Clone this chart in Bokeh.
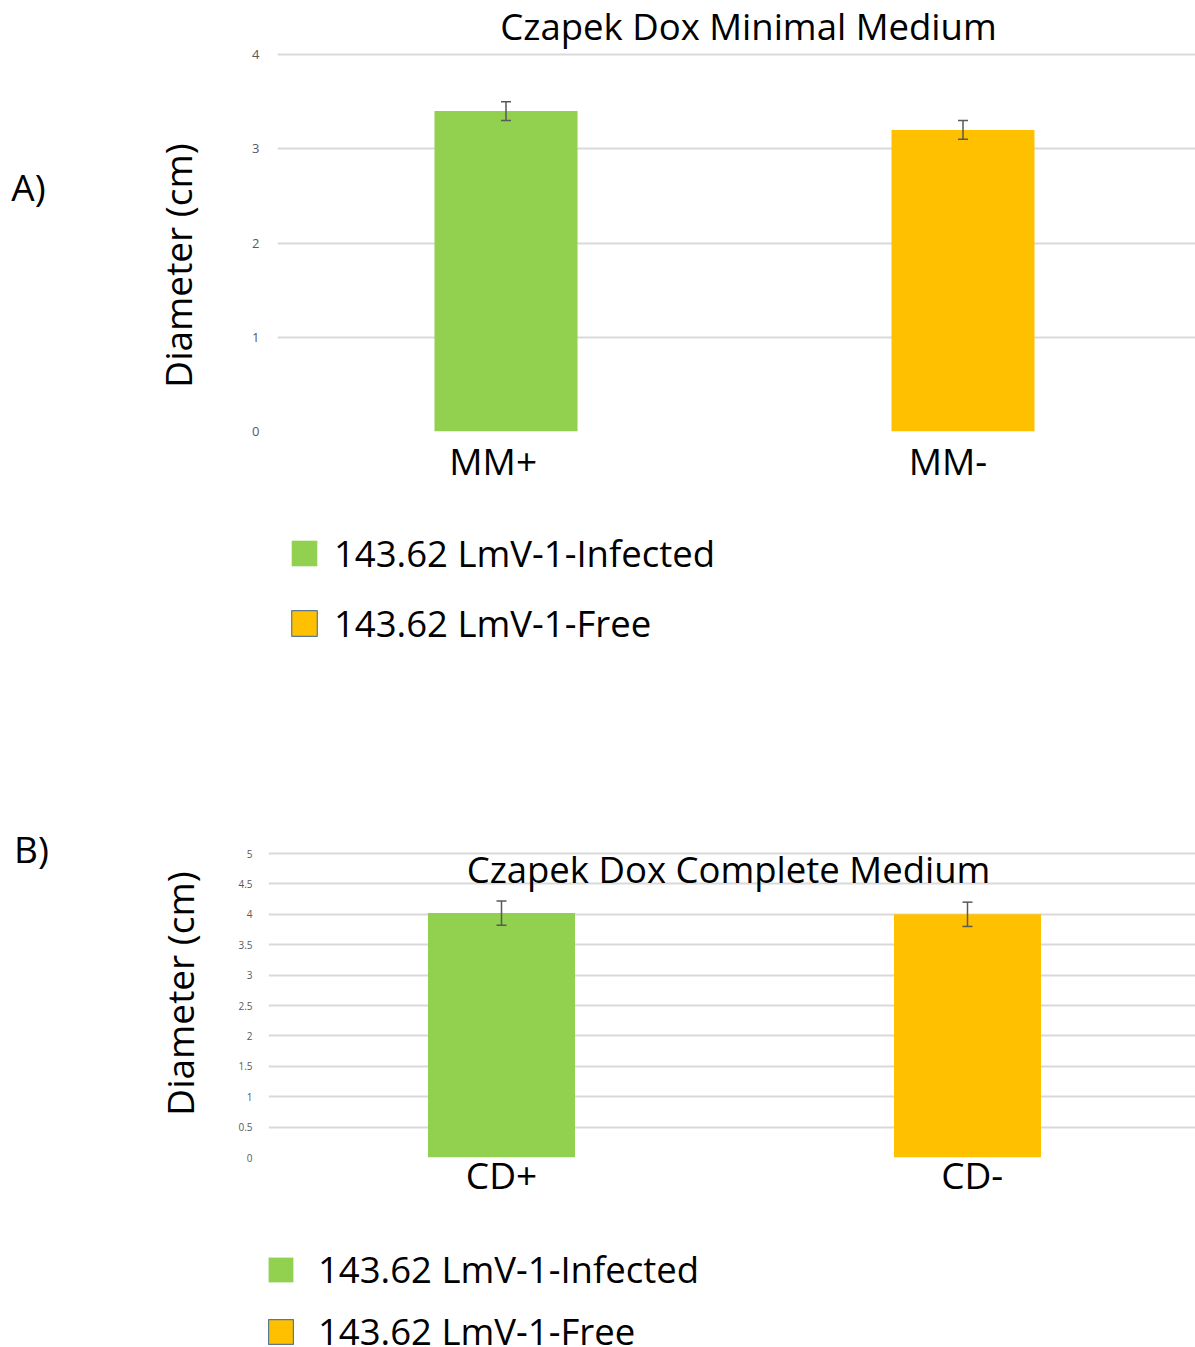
from bokeh.plotting import figure
from bokeh.models import (ColumnDataSource, Range1d, FixedTicker, Whisker, TeeHead,
                          Label, Legend, LegendItem, NumeralTickFormatter)
from bokeh.layouts import column, row
from bokeh.embed import file_html
from bokeh.resources import INLINE
import math

# ---------------- data ----------------
series_names = ["143.62 LmV-1-Infected", "143.62 LmV-1-Free"]
series_colors = ["#92D050", "#FFC000"]
series_edge = [None, "#5A7896"]

categories_a = ["MM+", "MM-"]
values_a = [3.4, 3.2]
errors_a = [0.1, 0.1]
ticks_a = [0, 1, 2, 3, 4]

categories_b = ["CD+", "CD-"]
values_b = [4.02, 4.0]
errors_b = [0.2, 0.2]
ticks_b = [0, 0.5, 1, 1.5, 2, 2.5, 3, 3.5, 4, 4.5, 5]

FONT = "Open Sans"
TXT = "36.5px"
GRID = "#D9D9D9"
TICKC = "#595959"
PAGE_W = 1195
LEFT_W = 225


def blank(width, height):
    """A figure whose frame is the whole figure, in pixel units (y downwards)."""
    p = figure(frame_width=width, frame_height=height, output_backend="svg",
               toolbar_location=None,
               x_range=Range1d(0, width), y_range=Range1d(height, 0),
               x_axis_type=None, y_axis_type=None,
               min_border_left=0, min_border_right=0, min_border_top=0, min_border_bottom=0)
    p.outline_line_color = None
    p.grid.visible = False
    return p


def left_fig(letter, height, letter_pos, ylabel_pos):
    p = blank(LEFT_W, height)
    p.add_layout(Label(x=letter_pos[0], y=letter_pos[1], text=letter, text_font=FONT,
                       text_font_size="37px", text_align="center", text_baseline="middle",
                       text_color="black"))
    p.add_layout(Label(x=ylabel_pos[0], y=ylabel_pos[1], text="Diameter (cm)",
                       text_font=FONT, text_font_size="37px", text_align="center",
                       text_baseline="middle", angle=math.pi / 2, text_color="black"))
    return p


def legend_fig(height, loc, spacing, glyph, standoff):
    p = blank(PAGE_W, height)
    rs = []
    for col, edge in zip(series_colors, series_edge):
        # swatch-only renderers: their single point is NaN, so nothing is drawn
        rs.append(p.vbar(x=[float("nan")], top=[float("nan")], width=1, fill_color=col,
                         line_color=edge, line_width=1.2))
    legend = Legend(items=[LegendItem(label=n, renderers=[r])
                           for n, r in zip(series_names, rs)],
                    location=loc, orientation="vertical",
                    glyph_width=glyph, glyph_height=glyph,
                    label_standoff=standoff, spacing=spacing,
                    padding=0, margin=0, border_line_color=None,
                    background_fill_alpha=0,
                    label_text_font=FONT, label_text_font_size=TXT,
                    label_text_color="black")
    p.add_layout(legend, "center")
    return p


def main_fig(cats, vals, errs, ticks, *, height, page_y0, frame_left_page, frame_bottom_page,
             x_unit, y_unit, bar_w, tick_font, tick_standoff, cat_shift, cat_standoff,
             title, title_pos, fmt):
    width = PAGE_W - LEFT_W
    frame_left = frame_left_page - LEFT_W
    frame_bottom = frame_bottom_page - page_y0
    x_end = (width - frame_left) / x_unit
    y_end = frame_bottom / y_unit
    p = figure(width=width, height=height, output_backend="svg", toolbar_location=None,
               x_range=Range1d(0, x_end), y_range=Range1d(0, y_end),
               min_border_left=frame_left, min_border_right=0, min_border_top=0,
               min_border_bottom=height - frame_bottom)
    p.outline_line_color = None

    def dx(px):
        return (px - frame_left_page) / x_unit

    def dy(py):
        return (frame_bottom_page - py) / y_unit

    xs = [i + 0.5 for i in range(len(cats))]
    for i, col in enumerate(series_colors):
        src = ColumnDataSource(dict(x=[xs[i]], top=[vals[i]]))
        p.vbar(x="x", top="top", width=bar_w, source=src, fill_color=col, line_color=None)

    esrc = ColumnDataSource(dict(x=xs,
                                 upper=[v + e for v, e in zip(vals, errs)],
                                 lower=[v - e for v, e in zip(vals, errs)]))
    p.add_layout(Whisker(source=esrc, base="x", upper="upper", lower="lower",
                         level="overlay", line_color="#595959", line_width=1.5,
                         upper_head=TeeHead(size=10, line_color="#595959", line_width=1.5),
                         lower_head=TeeHead(size=10, line_color="#595959", line_width=1.5)))

    p.xgrid.visible = False
    p.ygrid.grid_line_color = GRID
    p.ygrid.grid_line_width = 2
    p.yaxis.ticker = FixedTicker(ticks=ticks)
    p.ygrid.ticker = FixedTicker(ticks=ticks)
    p.yaxis.formatter = NumeralTickFormatter(format=fmt)
    p.yaxis.axis_line_color = None
    p.yaxis.major_tick_line_color = None
    p.yaxis.minor_tick_line_color = None
    p.yaxis.major_label_text_font = FONT
    p.yaxis.major_label_text_font_size = tick_font
    p.yaxis.major_label_text_color = TICKC
    p.yaxis.major_label_standoff = tick_standoff

    cat_ticks = [x + s for x, s in zip(xs, cat_shift)]
    p.xaxis.ticker = FixedTicker(ticks=cat_ticks)
    p.xaxis.major_label_overrides = {t: c for t, c in zip(cat_ticks, cats)}
    p.xaxis.axis_line_color = None
    p.xaxis.major_tick_line_color = None
    p.xaxis.minor_tick_line_color = None
    p.xaxis.major_label_text_font = FONT
    p.xaxis.major_label_text_font_size = "37px"
    p.xaxis.major_label_text_color = "black"
    p.xaxis.major_label_standoff = cat_standoff

    p.add_layout(Label(x=dx(title_pos[0]), y=dy(title_pos[1]), text=title,
                       text_font=FONT, text_font_size=TXT, text_align="center",
                       text_baseline="middle", text_color="black"))
    return p


# ---- Panel A: page y 0..730 ----
mainA = main_fig(categories_a, values_a, errors_a, ticks_a, height=500, page_y0=0,
                 frame_left_page=277, frame_bottom_page=431, x_unit=457, y_unit=94.25,
                 bar_w=143 / 457, tick_font="13px", tick_standoff=12,
                 cat_shift=[-0.028, -0.033], cat_standoff=-3,
                 title="Czapek Dox Minimal Medium", title_pos=(748, 25), fmt="0")
leftA = left_fig("A)", 500, (28, 186), (177, 265))
legendA = legend_fig(230, (288, 82), 20, 32, 14)

# ---- Panel B: page y 730..1347 ----
mainB = main_fig(categories_b, values_b, errors_b, ticks_b, height=480, page_y0=730,
                 frame_left_page=268, frame_bottom_page=1157, x_unit=466, y_unit=60.8,
                 bar_w=147 / 466, tick_font="10px", tick_standoff=10, cat_shift=[0, 0.01],
                 cat_standoff=-15,
                 title="Czapek Dox Complete Medium", title_pos=(728, 868), fmt="0.[0]")
leftB = left_fig("B)", 480, (31, 848 - 730), (179, 993 - 730))
legendB = legend_fig(137, (265, -9), 12, 31, 22)

layout = column(row(leftA, mainA, spacing=0), legendA,
                row(leftB, mainB, spacing=0), legendB, spacing=0)
open("out.html", "w").write(file_html(layout, INLINE))
